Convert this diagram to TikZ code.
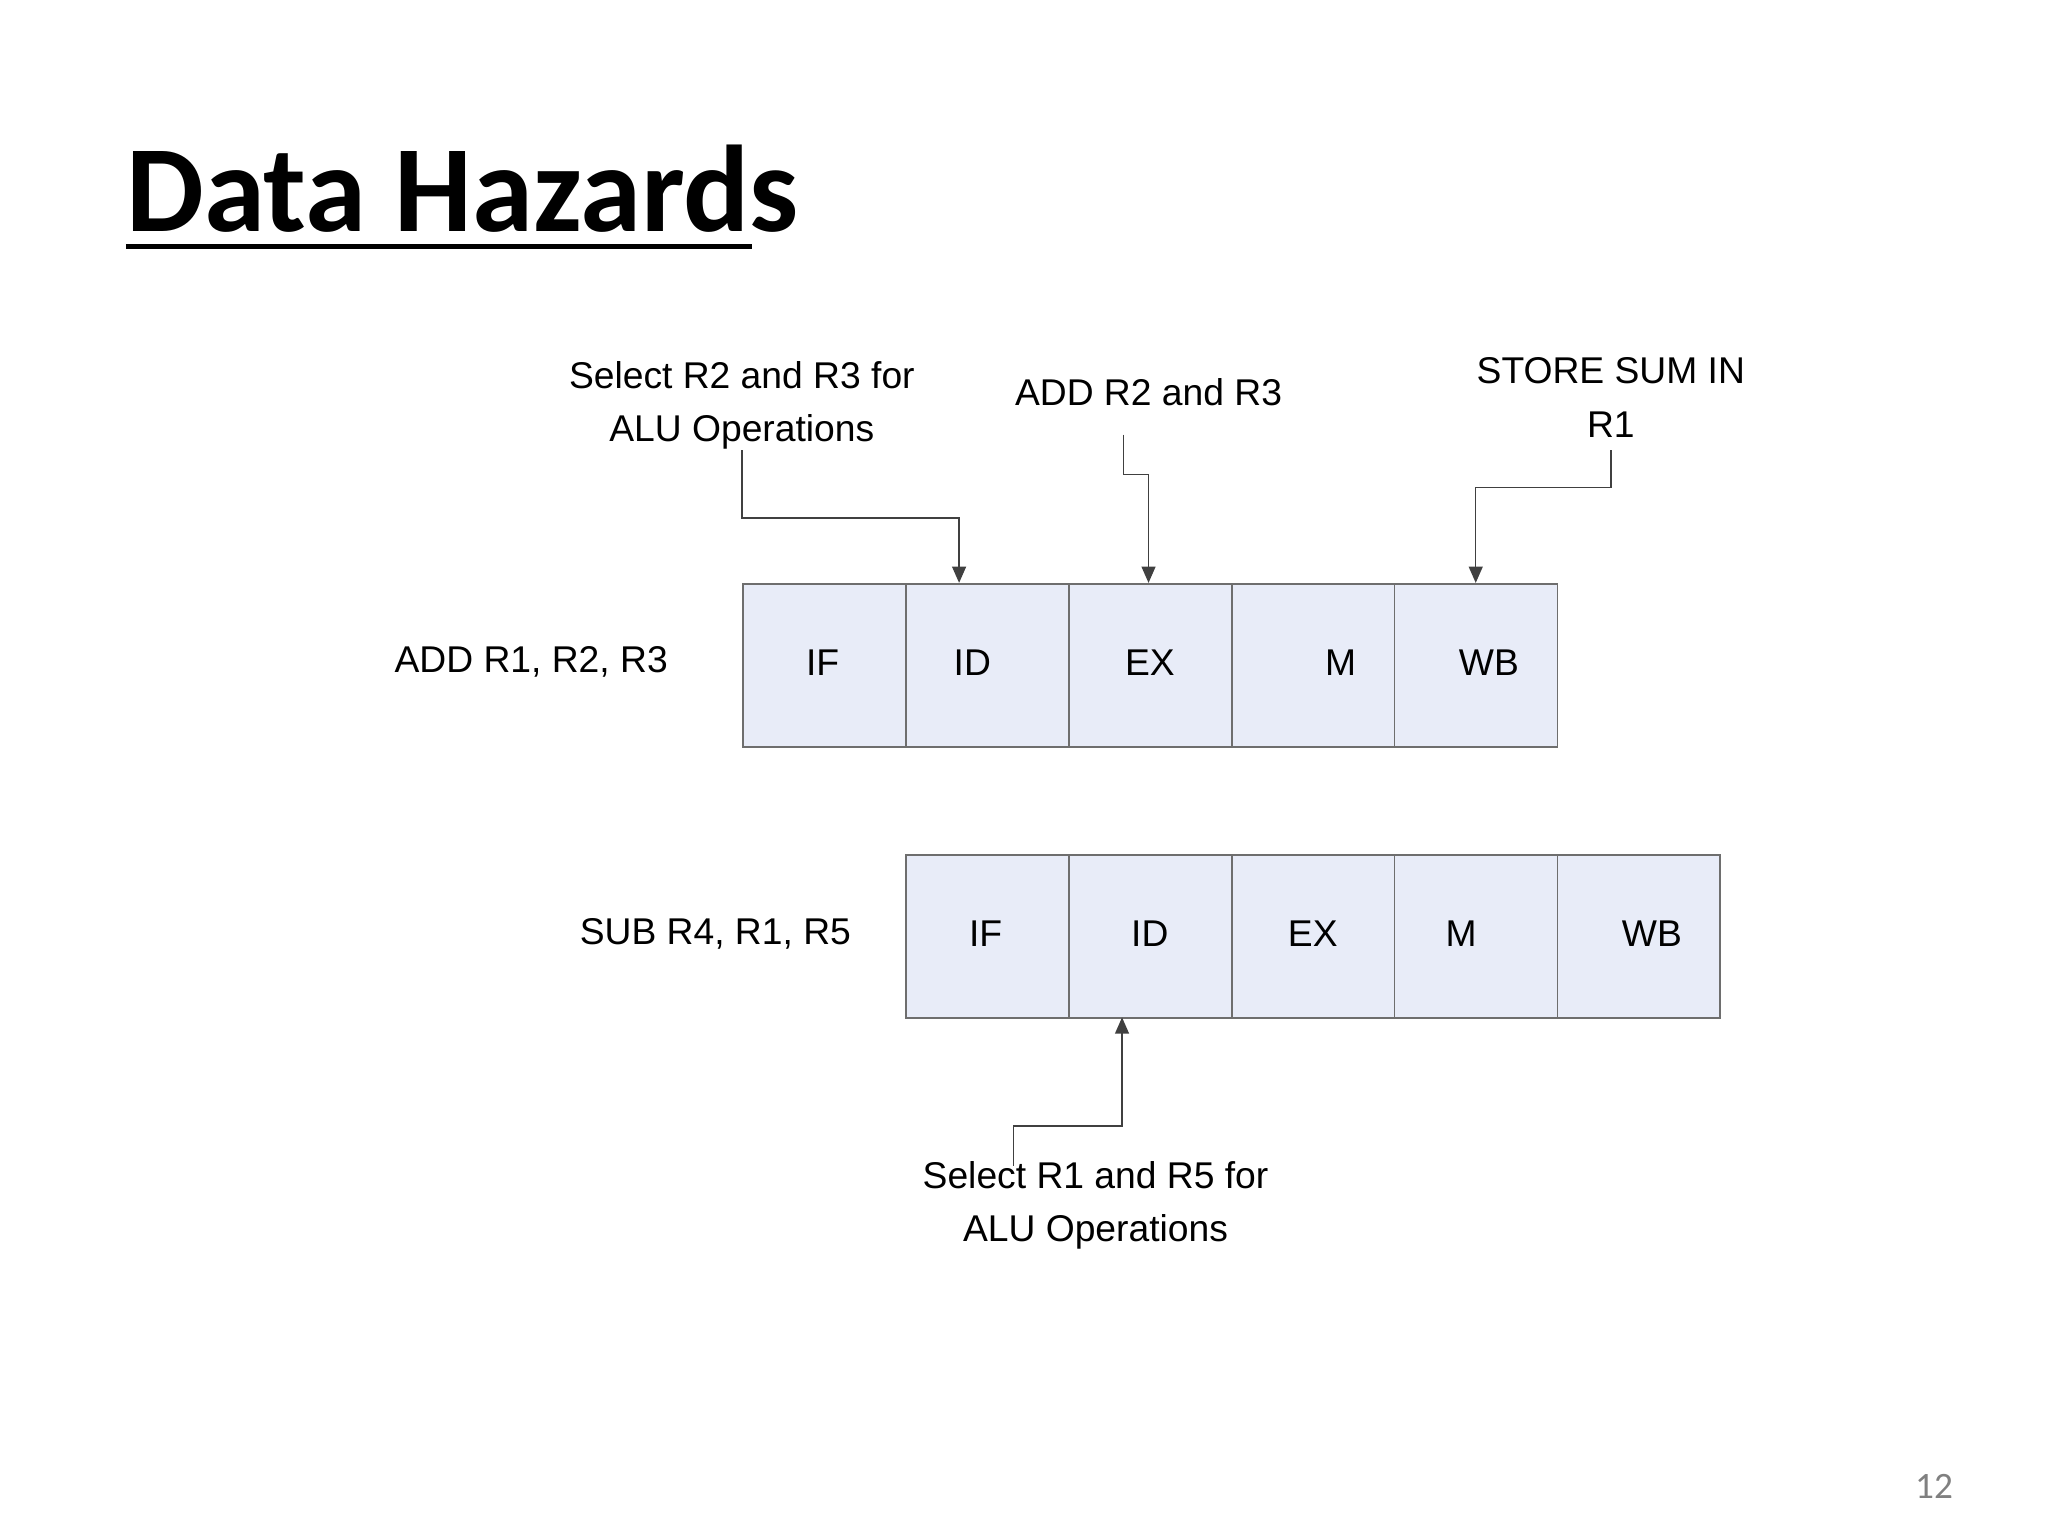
\documentclass[tikz,border=0pt]{standalone}
\usepackage{fontspec}
\setmainfont{Liberation Sans}
\newfontfamily\carlitofont{Carlito}
\usetikzlibrary{arrows.meta}
\definecolor{boxfill}{RGB}{232,236,248}
\definecolor{boxline}{RGB}{110,110,110}
\tikzset{
  stagebox/.style={draw=boxline,fill=boxfill,line width=0.8pt,minimum width=2.46cm,minimum height=2.46cm,inner sep=0pt},
  txt/.style={font=\fontsize{16}{19}\selectfont,align=center,inner sep=0pt},
  conn/.style={draw=black!75,line width=0.6pt},
  arr/.style={conn,-{Triangle[length=7pt,width=6pt]}}
}
\begin{document}
\begin{tikzpicture}[x=0.02cm,y=-0.02cm]
\useasboundingbox (0,0) rectangle (1546,1160);
\node[anchor=base west,inner sep=0pt,font=\carlitofont\bfseries\fontsize{53}{60}\selectfont] (title) at (95,175) {Data Hazards};
\draw[line width=2.2pt] (95,186) -- (568,186);
\node[font=\carlitofont\fontsize{16}{19}\selectfont,text=gray] (pg) at (1460,1122) {12};
\foreach \i/\x in {1/560,2/683,3/806,4/929,5/1052}{
  \node[stagebox,anchor=north west] (a\i) at (\x,440) {};
}
\foreach \i/\x in {1/683,2/806,3/929,4/1052,5/1175}{
  \node[stagebox,anchor=north west] (b\i) at (\x,645) {};
}
\node[txt] (t1) at (621,500) {IF};
\node[txt] (t2) at (734,500) {ID};
\node[txt] (t3) at (868,500) {EX};
\node[txt] (t4) at (1012,500) {M};
\node[txt] (t5) at (1124,500) {WB};
\node[txt] (u1) at (744,705) {IF};
\node[txt] (u2) at (868,705) {ID};
\node[txt] (u3) at (991,705) {EX};
\node[txt] (u4) at (1103,705) {M};
\node[txt] (u5) at (1247,705) {WB};
\node[txt] (ladd) at (401,500) {ADD R1, R2, R3};
\node[txt] (lsub) at (540,705) {SUB R4, R1, R5};
\node[txt] (c1) at (560,306) {Select R2 and R3 for\\[4pt]ALU Operations};
\node[txt] (c2) at (867,296) {ADD R2 and R3};
\node[txt] (c3) at (1216,300) {STORE SUM IN\\[4pt]R1};
\node[txt] (c4) at (827,910) {Select R1 and R5 for\\[4pt]ALU Operations};
\coordinate (s1) at (560,340); \coordinate (e1) at (724,440);
\coordinate (s2) at (848,328); \coordinate (e2) at (867,440);
\coordinate (s3) at (1216,340); \coordinate (e3) at (1114,440);
\coordinate (s4) at (765,880); \coordinate (e4) at (847,768);
\draw[arr] (s1) -- (560,391) -- (724,391) -- (e1);
\draw[arr] (s2) -- (848,358) -- (867,358) -- (e2);
\draw[arr] (s3) -- (1216,368) -- (1114,368) -- (e3);
\draw[arr] (s4) -- (765,850) -- (847,850) -- (e4);
\end{tikzpicture}
\end{document}
